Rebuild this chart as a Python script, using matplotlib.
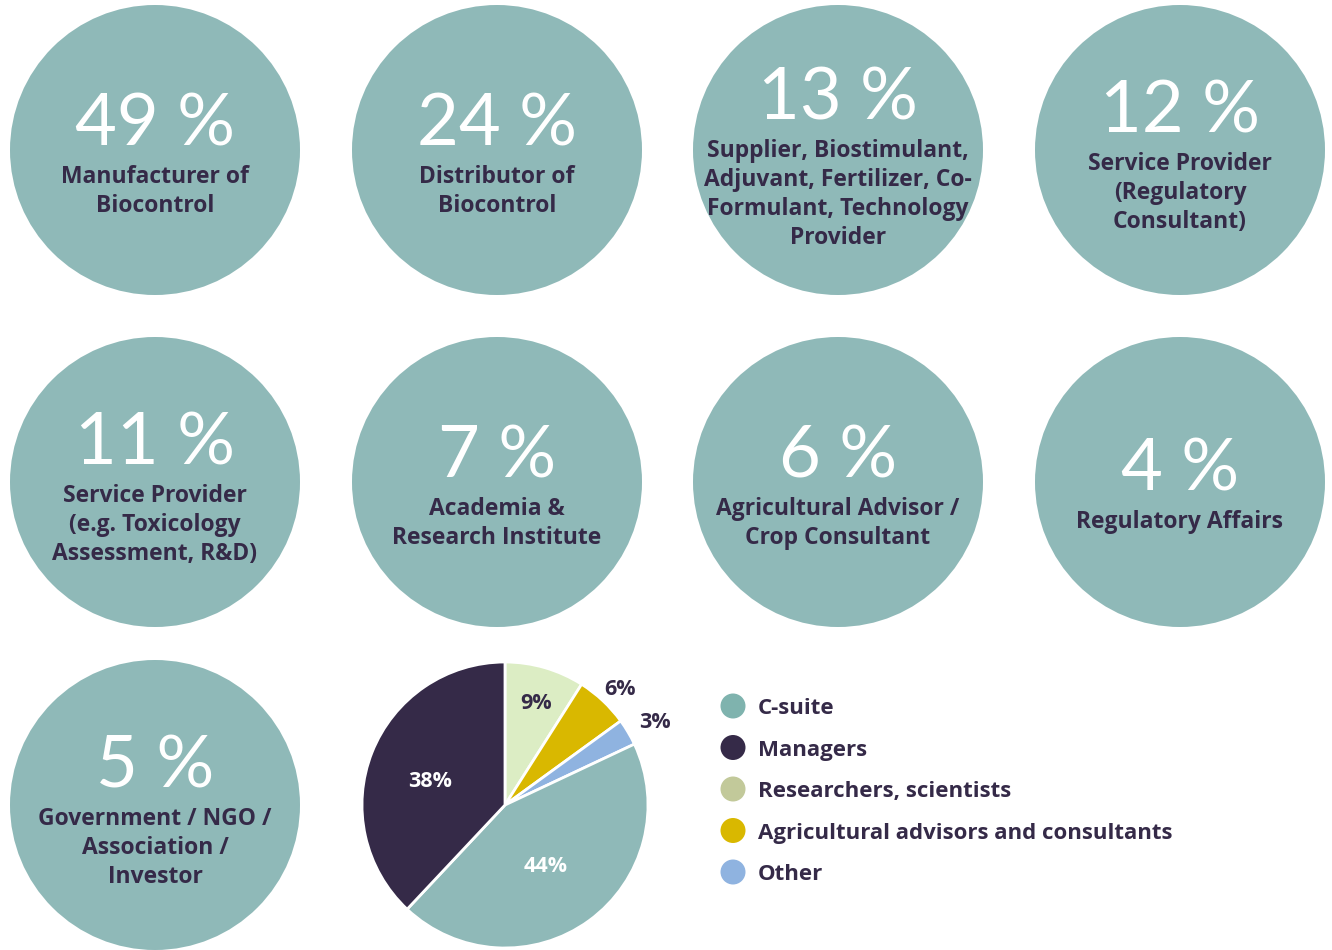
import numpy as np
import matplotlib.pyplot as plt
from matplotlib.patches import Circle

# circle tiles: share (%) and respondent type
shares = [49, 24, 13, 12, 11, 7, 6, 4, 5]
labels = [
    "Manufacturer of\nBiocontrol",
    "Distributor of\nBiocontrol",
    "Supplier, Biostimulant,\nAdjuvant, Fertilizer, Co-\nFormulant, Technology\nProvider",
    "Service Provider\n(Regulatory\nConsultant)",
    "Service Provider\n(e.g. Toxicology\nAssessment, R&D)",
    "Academia &\nResearch Institute",
    "Agricultural Advisor /\nCrop Consultant",
    "Regulatory Affairs",
    "Government / NGO /\nAssociation /\nInvestor",
]

# pie: job level of respondents (clockwise from top)
pie_names = ["Researchers, scientists", "Agricultural advisors and consultants",
             "Other", "C-suite", "Managers"]
pie_values = [9, 6, 3, 44, 38]
pie_colors = ["#dcedc4", "#d9b800", "#8fb3e0", "#8fb9b8", "#352a48"]
pie_text_colors = ["#352a48", "#352a48", "#352a48", "white", "white"]
pie_label_dist = [0.78, 1.17, 1.22, 0.48, 0.56]

legend_names = ["C-suite", "Managers", "Researchers, scientists",
                "Agricultural advisors and consultants", "Other"]
legend_colors = ["#7fb3ae", "#352a48", "#c2c99a", "#d9b800", "#8fb3e0"]

TEAL = "#8fb9b8"
DARK = "#352a48"
BOLD = "Open Sans"
W, H = 1332, 950

fig = plt.figure(figsize=(W / 100, H / 100), dpi=100)
ax = fig.add_axes([0, 0, 1, 1])

col_x = [155, 497, 838, 1180]
row_y = [150, 482, 805]
R = 145

for i, (s, lab) in enumerate(zip(shares, labels)):
    cx = col_x[i % 4]
    cy = row_y[i // 4]
    ax.add_patch(Circle((cx, H - cy), R, color=TEAL, lw=0))
    n = lab.count("\n") + 1
    ny = cy - (4 + 13 * n)
    ax.text(cx, H - ny - 5, f"{s} %", ha="center", va="center", color="white",
            fontsize=52, family="Lato")
    for k, line in enumerate(lab.split("\n")):
        ax.text(cx, H - (ny + 57 + 29 * k), line, ha="center", va="center",
                color=DARK, fontsize=16.5, family=BOLD, fontweight="bold")

# pie
pcx, pcy, pr = 505, 805, 143
wedges, _ = ax.pie(pie_values, colors=pie_colors, startangle=90, counterclock=False,
                   center=(pcx, H - pcy), radius=pr, frame=True,
                   wedgeprops=dict(edgecolor="white", linewidth=2))
for w, v, tc, d in zip(wedges, pie_values, pie_text_colors, pie_label_dist):
    a = np.deg2rad((w.theta1 + w.theta2) / 2)
    ax.text(pcx + d * pr * np.cos(a), H - pcy + d * pr * np.sin(a) - 6, f"{v}%",
            ha="center", va="center", color=tc, fontsize=15.5, family=BOLD,
            fontweight="bold")

# legend
for k, (nm, c) in enumerate(zip(legend_names, legend_colors)):
    y = 706 + 41.5 * k
    ax.add_patch(Circle((733, H - y), 12.5, color=c, lw=0))
    ax.text(758, H - y - 3, nm, ha="left", va="center", color=DARK, fontsize=16,
            family=BOLD, fontweight="bold")

ax.set_xlim(0, W)
ax.set_ylim(0, H)
ax.set_aspect("equal")
ax.axis("off")

fig.savefig("out.png", dpi=100)
